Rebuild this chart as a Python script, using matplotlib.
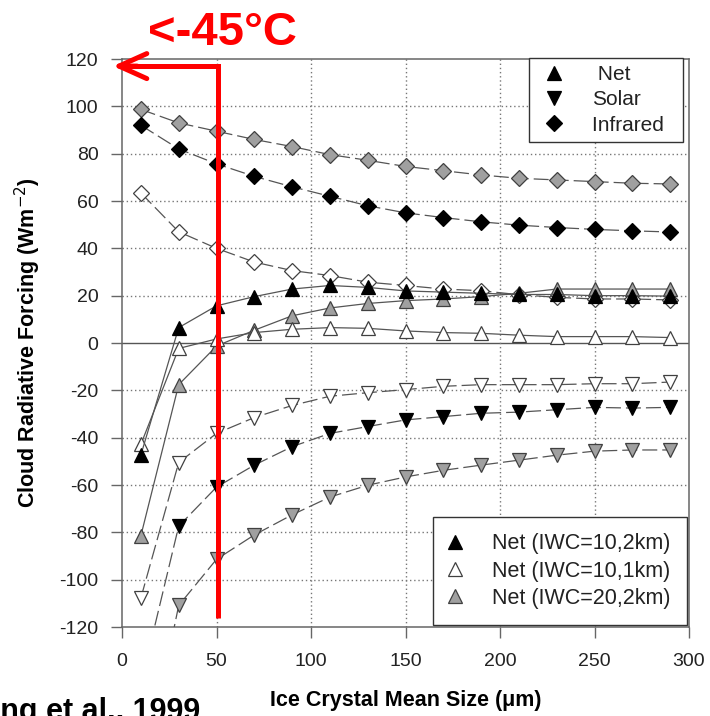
import matplotlib
matplotlib.use("Agg")
import matplotlib.pyplot as plt
from matplotlib.lines import Line2D

plt.rcParams['font.family'] = ['Liberation Sans', 'DejaVu Sans']
plt.rcParams['axes.unicode_minus'] = False

# ---------------- data ----------------
sizes = [10, 30, 50, 70, 90, 110, 130, 150, 170, 190, 210, 230, 250, 270, 290]

ir_20_2 = [98.7, 93, 89.5, 86, 83, 79.6, 77.2, 74.6, 72.8, 71, 69.6, 68.9, 68.2, 67.5, 67.2]
ir_10_2 = [92, 82, 75.7, 70.4, 66, 62, 58, 55, 53, 51.2, 49.8, 48.8, 48, 47.4, 46.9]
ir_10_1 = [63.4, 47, 40, 34.2, 30.6, 28.5, 25.7, 24.3, 22.8, 22.1, 20.4, 19.3, 18.6, 18.6, 18.2]

net_10_2 = [-47.3, 6.5, 15.7, 19.6, 22.8, 24.3, 23.5, 22, 21.5, 21, 20.5, 20.5, 20, 20, 19.8]
net_10_1 = [-42.8, -2.3, 1.7, 4.4, 5.8, 6.5, 6.2, 5.1, 4.4, 4.1, 3.3, 2.7, 2.7, 2.7, 2.3]
net_20_2 = [-81.4, -17.6, -1.3, 5.4, 11.5, 14.8, 16.7, 17.9, 18.6, 19.6, 21, 22.8, 22.8, 22.8, 22.8]

sol_10_2 = [-144, -77.4, -60.9, -51.6, -43.8, -38.2, -35.3, -32.5, -31.1, -29.7, -29.2, -28.2, -27.2, -27.5, -27.2]
sol_10_1 = [-107.7, -50.5, -38.2, -31.5, -26.4, -22.5, -21, -19.7, -18.3, -17.6, -17.6, -17.6, -17.2, -17.2, -16.5]
sol_20_2 = [-188, -110.9, -91.4, -81.1, -72.6, -65.1, -60.1, -56.6, -53.8, -51.6, -49.5, -47.4, -45.7, -45.2, -45.2]

x_ticks = [0, 50, 100, 150, 200, 250, 300]
y_ticks = [-120, -100, -80, -60, -40, -20, 0, 20, 40, 60, 80, 100, 120]

legend1_labels = [" Net", "Solar", "Infrared  "]
legend2_labels = ["Net (IWC=10,2km)", "Net (IWC=10,1km)", "Net (IWC=20,2km)"]

temp_label = "<-45°C"
threshold_size = 51
citation = "Zhang et al., 1999"

# ---------------- styles ----------------
W, H = 710, 716
fig = plt.figure(figsize=(W / 100, H / 100), dpi=100)
ax = fig.add_axes([122 / W, 1 - 627 / H, (689 - 122) / W, (627 - 59) / H])

line_col = '#555555'
grey_fill = '#a0a0a0'
styles = {
    'black': dict(mfc='black', mec='black'),
    'white': dict(mfc='white', mec='#404040'),
    'grey': dict(mfc=grey_fill, mec='#404040'),
}
dash = (12, 4)
tri_ms = 10.5
dia_ms = 8.3

def draw(y, marker, ms, kind, dashed):
    kw = dict(color=line_col, lw=0.9, marker=marker, ms=ms, mew=0.9, zorder=3)
    kw.update(styles[kind])
    ln, = ax.plot(sizes, y, **kw)
    if dashed:
        ln.set_dashes(dash)

# infrared
draw(ir_20_2, 'D', dia_ms, 'grey', True)
draw(ir_10_2, 'D', dia_ms, 'black', True)
draw(ir_10_1, 'D', dia_ms, 'white', True)
# solar
draw(sol_10_1, 'v', tri_ms, 'white', True)
draw(sol_10_2, 'v', tri_ms, 'black', True)
draw(sol_20_2, 'v', tri_ms, 'grey', True)
# net
draw(net_20_2, '^', tri_ms, 'grey', False)
draw(net_10_1, '^', tri_ms, 'white', False)
draw(net_10_2, '^', tri_ms, 'black', False)

ax.set_xlim(0, 300)
ax.set_ylim(-120, 120)
ax.set_xticks(x_ticks)
ax.set_yticks(y_ticks)
ax.tick_params(axis='both', direction='out', length=8, width=1.0, color='#666666',
               labelsize=14, labelcolor='#222222')
ax.tick_params(axis='y', pad=9)
ax.tick_params(axis='x', pad=11)
for sp in ax.spines.values():
    sp.set_color('#666666')
    sp.set_linewidth(1.1)

# grid
for yv in y_ticks:
    if yv in (-120, 120):
        continue
    if yv == 0:
        ax.axhline(0, color='#555555', lw=1.0, zorder=1)
    else:
        ax.axhline(yv, color='#777777', lw=1.0, ls=(0, (1, 2)), zorder=1)
for xv in x_ticks[1:-1]:
    ax.axvline(xv, color='#777777', lw=1.0, ls=(0, (1, 2)), zorder=1)

ax.set_xlabel("Ice Crystal Mean Size (μm)", fontsize=15.5, fontweight='bold',
              labelpad=14)
ax.set_ylabel("Cloud Radiative Forcing (Wm$^{-2}$)", fontsize=15.5, fontweight='bold',
              labelpad=12)

# legends
def h(marker, kind):
    return Line2D([], [], ls='none', marker=marker, ms=tri_ms if marker != 'D' else dia_ms,
                  mew=0.9, **styles[kind])

leg1 = ax.legend([h('^', 'black'), h('v', 'black'), h('D', 'black')], legend1_labels,
                 loc='upper left', bbox_to_anchor=(529 / W, 1 - 58 / H),
                 bbox_transform=fig.transFigure, fontsize=15, frameon=True,
                 fancybox=False, edgecolor='#333333', framealpha=1,
                 borderpad=0.34, labelspacing=0.3, handlelength=1.7, handletextpad=1.0,
                 borderaxespad=0)
leg1.get_frame().set_linewidth(1.0)
for t in leg1.get_texts():
    t.set_color('#222222')
ax.add_artist(leg1)

leg2 = ax.legend([h('^', 'black'), h('^', 'white'), h('^', 'grey')], legend2_labels,
                 loc='lower right', bbox_to_anchor=(687 / W, 1 - 625 / H),
                 bbox_transform=fig.transFigure, fontsize=15.5, frameon=True,
                 fancybox=False, edgecolor='#333333', framealpha=1,
                 borderpad=0.75, labelspacing=0.29, handlelength=0.5, handletextpad=1.5,
                 borderaxespad=0)
leg2.get_frame().set_linewidth(1.0)
for t in leg2.get_texts():
    t.set_color('#222222')

# red annotation
ax.plot([threshold_size, threshold_size, 2], [-116, 117, 117], color='red', lw=3.6,
        solid_joinstyle='miter', solid_capstyle='butt', clip_on=False, zorder=10)
ax.annotate('', xy=(-4.8, 117), xytext=(8, 117),
            arrowprops=dict(arrowstyle='->,head_length=1.0,head_width=0.45',
                            color='red', lw=3.6, mutation_scale=20,
                            shrinkA=0, shrinkB=0),
            annotation_clip=False, zorder=10)
fig.text(148 / W, 1 - 45 / H, temp_label, color='red', fontsize=34, fontweight='bold',
         ha='left', va='baseline')

fig.text(200 / W, 1 - 720 / H, citation, fontsize=22, fontweight='bold',
         ha='right', va='baseline')

fig.savefig('out.png', dpi=100)
